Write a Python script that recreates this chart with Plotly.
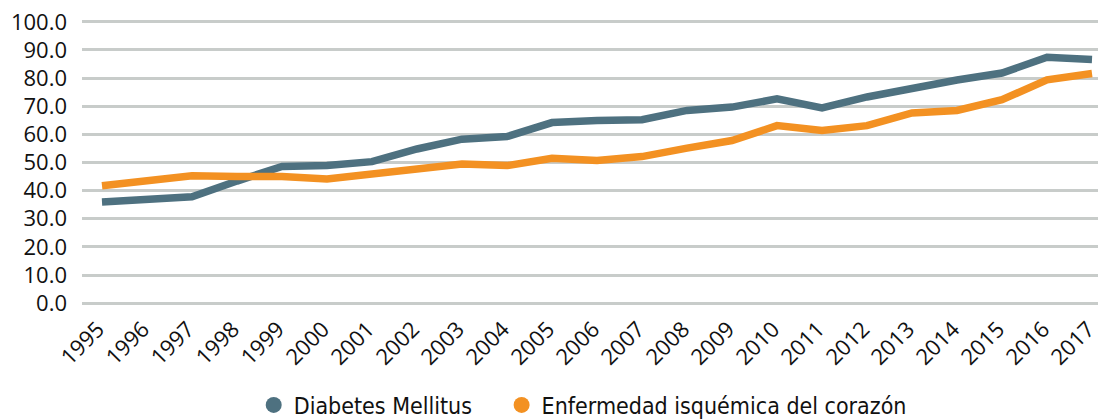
import plotly.graph_objects as go

years = [str(y) for y in range(1995, 2018)]
diabetes = [36.0, 37.0, 37.8, 43.4, 48.6, 48.9, 50.3, 54.8, 58.3, 59.2, 64.2, 64.9, 65.2, 68.5, 69.7,
            72.6, 69.4, 73.3, 76.5, 79.3, 81.8, 87.4, 86.6]
isquemica = [41.7, 43.2, 45.3, 45.0, 45.0, 44.1, 45.9, 48.0, 49.5, 48.9, 51.5, 50.7, 52.1, 55.1, 57.8,
             63.1, 61.4, 63.1, 67.6, 68.5, 72.3, 79.4, 81.6]
yticks = [0, 10, 20, 30, 40, 50, 60, 70, 80, 90, 100]
ytick_labels = [f"{v:.1f}" for v in yticks]
names = ["Diabetes Mellitus", "Enfermedad isquémica del corazón"]
colors = ["#4E7180", "#F39122"]
legend_ids = ["legend", "legend2"]

fig = go.Figure()
for vals, name, col in zip([diabetes, isquemica], names, colors):
    fig.add_trace(go.Scatter(x=years, y=vals, mode="lines", name=name,
                             line=dict(color=col, width=7.5), showlegend=False))
for name, col, lg in zip(names, colors, legend_ids):
    fig.add_trace(go.Scatter(x=[None], y=[None], mode="markers", name=name, legend=lg,
                             marker=dict(color=col, size=22, symbol="circle")))

legend_font = dict(family="DejaVu Sans Condensed, Roboto", size=23, color="#111111")
fig.update_layout(
    width=1098, height=420,
    margin=dict(l=82, r=0, t=19, b=114, autoexpand=False),
    paper_bgcolor="white", plot_bgcolor="white",
    font=dict(family="Open Sans", color="#111111", size=22),
    showlegend=True,
    legend=dict(orientation="h", x=0.169, xanchor="left", y=-0.345, yanchor="middle",
                font=legend_font),
    legend2=dict(orientation="h", x=0.413, xanchor="left", y=-0.345, yanchor="middle",
                 font=legend_font),
    xaxis=dict(type="category", range=[-0.444, 22.133], showgrid=False, showline=False,
               ticks="", tickangle=-45, tickfont=dict(size=22), ticklabelstandoff=5,
               ticklabelshift=-4, automargin=False),
    yaxis=dict(range=[-1, 101], tickvals=yticks, ticktext=ytick_labels, showgrid=True,
               gridcolor="#C8CCCA", gridwidth=3, zeroline=False, showline=False,
               ticks="", tickfont=dict(size=22), ticklabelstandoff=14, automargin=False),
)
fig.write_html("out.html", config={"displayModeBar": False},
               post_script="document.body.style.margin='0';")
